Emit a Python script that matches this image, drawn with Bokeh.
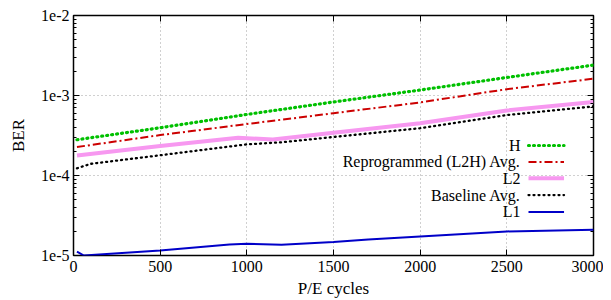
import numpy as np
from bokeh.plotting import figure
from bokeh.models import (LinearAxis, LogAxis, CustomJSTickFormatter, Range1d,
                          FixedTicker)
from bokeh.embed import file_html
from bokeh.resources import INLINE

# ---- data ----
h_x = [20, 500, 1000, 1500, 2000, 2500, 3000]
h_y = [2.8e-4, 3.95e-4, 5.8e-4, 8.3e-4, 1.17e-3, 1.68e-3, 2.4e-3]

r_x = [20, 500, 1000, 1500, 2000, 2500, 3000]
r_y = [2.27e-4, 3.2e-4, 4.4e-4, 6.0e-4, 8.2e-4, 1.2e-3, 1.62e-3]

l2_x = [20, 500, 950, 1150, 1500, 2000, 2500, 3000]
l2_y = [1.78e-4, 2.34e-4, 2.96e-4, 2.82e-4, 3.43e-4, 4.5e-4, 6.5e-4, 8.3e-4]

b_x = [20, 100, 500, 1000, 1200, 1500, 2000, 2500, 3000]
b_y = [1.23e-4, 1.4e-4, 1.79e-4, 2.45e-4, 2.6e-4, 3.03e-4, 3.9e-4, 5.7e-4, 7.3e-4]

l1_x = [20, 60, 500, 900, 1000, 1200, 1500, 1700, 2000, 2500, 3000]
l1_y = [1.12e-5, 1.0e-5, 1.155e-5, 1.37e-5, 1.40e-5, 1.36e-5, 1.47e-5, 1.58e-5,
        1.73e-5, 2.0e-5, 2.1e-5]

x_ticks = [0, 500, 1000, 1500, 2000, 2500, 3000]
y_ticks = [1e-5, 1e-4, 1e-3, 1e-2]

legend_labels = ["H", "Reprogrammed (L2H) Avg.", "L2", "Baseline Avg.", "L1"]

FONT = "Liberation Serif"

p = figure(frame_width=520, frame_height=240, output_backend="svg", toolbar_location=None,
           y_axis_type="log", x_range=Range1d(0, 3000), y_range=Range1d(1e-5, 1e-2),
           min_border_left=73, min_border_right=10, min_border_top=15,
           min_border_bottom=10)
p.outline_line_color = "black"
p.outline_line_width = 1.5
p.background_fill_color = "white"
p.border_fill_color = "white"

# grid
p.xgrid.ticker = FixedTicker(ticks=x_ticks)
p.ygrid.ticker = FixedTicker(ticks=y_ticks)
for g in (p.xgrid, p.ygrid):
    g.grid_line_color = "#a0a0a0"
    g.grid_line_dash = "1 3"
    g.grid_line_width = 1

# mirrored axes
ra = LogAxis(axis_line_color=None, major_label_standoff=0,
             major_tick_in=6, major_tick_out=0, minor_tick_in=3, minor_tick_out=0)
ra.ticker.num_minor_ticks = 10
ra.major_label_text_color = None
ra.major_label_text_font_size = "1px"
p.add_layout(ra, "right")
ta = LinearAxis(ticker=FixedTicker(ticks=x_ticks), major_label_standoff=0,
                axis_line_color=None, major_tick_in=6, major_tick_out=0,
                minor_tick_line_color=None)
ta.major_label_text_color = None
ta.major_label_text_font_size = "1px"
p.add_layout(ta, "above")

# main axes
xa = p.below[0]
ya = p.left[0]
xa.ticker = FixedTicker(ticks=x_ticks)
xa.axis_label = "P/E cycles"
ya.ticker.num_minor_ticks = 10
ya.formatter = CustomJSTickFormatter(code='return "1e" + Math.round(Math.log10(tick));')
ya.axis_label = "BER"
for ax in (xa, ya):
    ax.major_label_text_font = FONT
    ax.major_label_text_font_size = "16px"
    ax.major_label_text_color = "black"
    ax.axis_label_text_font = FONT
    ax.axis_label_text_font_size = "17px"
    ax.axis_label_text_font_style = "normal"
    ax.axis_label_text_color = "black"
    ax.axis_line_color = None
    ax.major_tick_in = 6
    ax.major_tick_out = 0
    ax.minor_tick_in = 3
    ax.minor_tick_out = 0
    ax.major_tick_line_color = "black"
    ax.minor_tick_line_color = "black"
xa.minor_tick_line_color = None
xa.major_label_standoff = 5
ya.major_label_standoff = 4
xa.axis_label_standoff = 4
ya.axis_label_standoff = 10

# series styles
styles = [
    dict(line_color="#00c000", line_width=3.2, line_dash="1 4", line_cap="round"),
    dict(line_color="#cc0000", line_width=2, line_dash="8 3 2 3"),
    dict(line_color="#f798f0", line_width=4),
    dict(line_color="black", line_width=2.3, line_dash="1 4", line_cap="round"),
    dict(line_color="#0000c8", line_width=2),
]
series = [(h_x, h_y), (r_x, r_y), (l2_x, l2_y), (b_x, b_y), (l1_x, l1_y)]
for (sx, sy), st in zip(series, styles):
    p.line(sx, sy, **st)

# legend (gnuplot style: label right-aligned, sample to the right)
leg_log_y = [-3.625, -3.83, -4.035, -4.245, -4.455]
for lab, ly, st in zip(legend_labels, leg_log_y, styles):
    yv = 10 ** ly
    p.text(x=[2579], y=[yv], text=[lab], text_align="right", text_baseline="middle",
           text_font={"value": FONT}, text_font_size="16px", text_color="black")
    p.line([2625, 2830], [yv, yv], **st)

open("out.html", "w").write(file_html(p, INLINE))
